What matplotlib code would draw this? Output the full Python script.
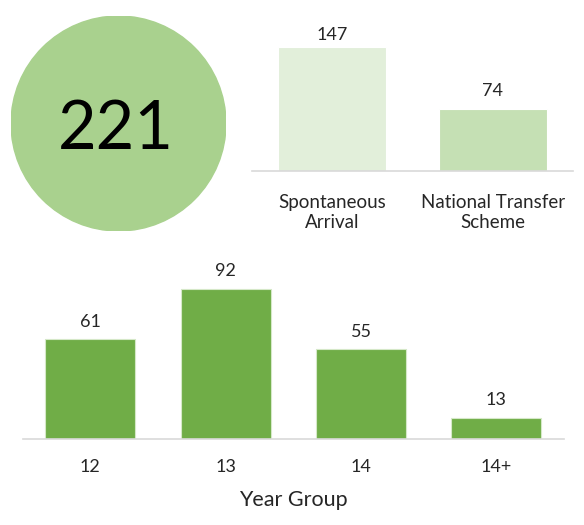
import matplotlib
matplotlib.use("Agg")
import matplotlib.pyplot as plt
from matplotlib.patches import Ellipse

plt.rcParams['font.family'] = ['Lato', 'DejaVu Sans']

total = 221
arrival_cats = ["Spontaneous\nArrival", "National Transfer\nScheme"]
arrival_vals = [147, 74]
arrival_colors = ["#E2EFDA", "#C5E0B4"]
year_cats = ["12", "13", "14", "14+"]
year_vals = [61, 92, 55, 13]

W, H = 584, 525
PX = 72 / 100  # points per pixel
fig = plt.figure(figsize=(W/100, H/100), dpi=100)

# circle
axc = fig.add_axes([11/W, 1-231/H, 215/W, 215/H])
axc.set_xlim(0, 1); axc.set_ylim(0, 1); axc.axis('off')
axc.add_patch(Ellipse((0.5, 0.5), 1, 1, color="#A9D18E"))
axc.text(0.49, 0.47, str(total), ha='center', va='center', fontsize=48, color='black')

def style(ax, labelsize, pad):
    for s in ['top', 'right', 'left']:
        ax.spines[s].set_visible(False)
    ax.spines['bottom'].set_color('#D9D9D9')
    ax.spines['bottom'].set_linewidth(1.2)
    ax.set_yticks([])
    ax.tick_params(axis='x', length=0, labelsize=labelsize, colors='#262626', pad=pad)

# top bar chart
axt = fig.add_axes([252/W, 1-171/H, 321/W, 143.4/H])
xt = range(len(arrival_cats))
bars = axt.bar(xt, arrival_vals, width=0.673, color=arrival_colors, edgecolor='white', linewidth=0.8)
axt.set_xlim(-0.5, len(arrival_cats)-0.5)
axt.set_ylim(0, 170)
axt.set_xticks(list(xt))
axt.set_xticklabels(arrival_cats, linespacing=1.25)
style(axt, 13.5, 23 * PX)
for b, v, off in zip(bars, arrival_vals, [12, 18]):
    axt.annotate(str(v), (b.get_x()+b.get_width()/2, v), xytext=(0, off * PX), textcoords='offset points',
                 ha='center', va='center', fontsize=13, color='#262626', clip_on=False)

# bottom bar chart
axb = fig.add_axes([22.7/W, 1-439/H, 541.3/W, 163.5/H])
xb = range(len(year_cats))
bars = axb.bar(xb, year_vals, width=0.665, color="#70AD47", edgecolor='#D5E8C8', linewidth=0.8)
axb.set_xlim(-0.5, len(year_cats)-0.5)
axb.set_ylim(0, 100)
axb.set_xticks(list(xb))
axb.set_xticklabels(year_cats)
style(axb, 13, 20 * PX)
axb.set_xlabel("Year Group", fontsize=15.5, color='#262626', labelpad=15 * PX)
for b, v in zip(bars, year_vals):
    axb.annotate(str(v), (b.get_x()+b.get_width()/2, v), xytext=(0, 17.5 * PX), textcoords='offset points',
                 ha='center', va='center', fontsize=13, color='#262626', clip_on=False)

fig.savefig("out.png", dpi=100)
